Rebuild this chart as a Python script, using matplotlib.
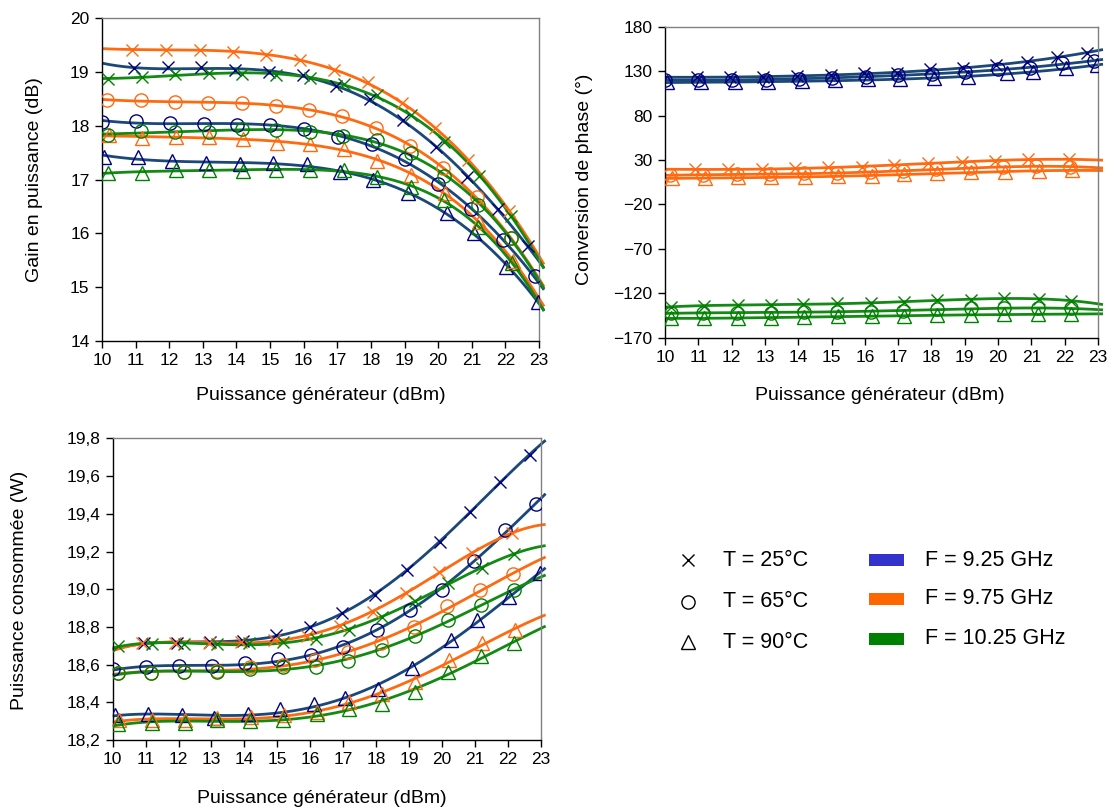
import numpy as np
import matplotlib
matplotlib.use("Agg")
import matplotlib.pyplot as plt
from matplotlib.patches import Rectangle
from matplotlib.ticker import FuncFormatter

plt.rcParams['font.family'] = ['Liberation Sans', 'DejaVu Sans']

# ---- measured generator power (dBm) for each frequency / temperature run ----
pgen_925_25 = [10.95, 11.95, 12.95, 13.95, 14.97, 15.98, 16.96, 17.97, 18.94, 19.93, 20.86, 21.77, 22.66]
pgen_925_65 = [10.0, 11.0, 12.02, 13.03, 14.02, 15.01, 16.02, 17.01, 18.02, 19.02, 20.0, 20.97, 21.92, 22.87]
pgen_925_90 = [10.07, 11.08, 12.09, 13.09, 14.1, 15.09, 16.1, 17.07, 18.07, 19.09, 20.27, 21.06, 22.03, 22.98]
pgen_975_25 = [10.9, 11.9, 12.92, 13.9, 14.89, 15.9, 16.89, 17.9, 18.92, 19.9, 20.9, 22.12]
pgen_975_65 = [10.15, 11.15, 12.17, 13.16, 14.17, 15.17, 16.15, 17.14, 18.15, 19.16, 20.15, 21.15, 22.17]
pgen_975_90 = [10.2, 11.2, 12.2, 13.18, 14.2, 15.2, 16.2, 17.19, 18.18, 19.19, 20.2, 21.22, 22.23]
pgen_1025_25 = [10.17, 11.18, 12.18, 13.17, 14.15, 15.17, 16.18, 17.19, 18.18, 19.19, 20.17, 21.22, 22.18]
pgen_1025_65 = [10.17, 11.15, 12.17, 13.17, 14.17, 15.17, 16.18, 17.16, 18.18, 19.19, 20.17, 21.19, 22.18]
pgen_1025_90 = [10.17, 11.18, 12.2, 13.18, 14.18, 15.18, 16.2, 17.19, 18.18, 19.19, 20.17, 21.19, 22.2]

# ---- power gain (dB) ----
gain_925_25 = [19.07, 19.09, 19.09, 19.04, 19.0, 18.94, 18.74, 18.50, 18.11, 17.61, 17.06, 16.45, 15.77]
gain_925_65 = [18.08, 18.09, 18.06, 18.03, 18.02, 18.02, 17.94, 17.8, 17.67, 17.38, 16.93, 16.45, 15.88, 15.2]
gain_925_90 = [17.43, 17.43, 17.34, 17.31, 17.29, 17.31, 17.29, 17.15, 17.0, 16.75, 16.38, 16.0, 15.38, 14.73]
gain_975_25 = [19.42, 19.42, 19.42, 19.38, 19.32, 19.23, 19.05, 18.81, 18.43, 17.96, 17.37, 16.42]
gain_975_65 = [18.48, 18.48, 18.45, 18.43, 18.43, 18.37, 18.30, 18.19, 17.96, 17.63, 17.21, 16.67, 15.91]
gain_975_90 = [17.83, 17.77, 17.8, 17.8, 17.75, 17.69, 17.67, 17.57, 17.35, 17.09, 16.76, 16.22, 15.48]
gain_1025_25 = [18.87, 18.92, 18.96, 18.98, 18.96, 18.95, 18.89, 18.79, 18.58, 18.2, 17.71, 17.07, 16.33]
gain_1025_65 = [17.83, 17.91, 17.89, 17.89, 17.94, 17.93, 17.88, 17.81, 17.74, 17.5, 17.07, 16.53, 15.91]
gain_1025_90 = [17.13, 17.13, 17.18, 17.19, 17.17, 17.18, 17.19, 17.18, 17.05, 16.87, 16.62, 16.13, 15.45]

# ---- AM/PM phase conversion (deg) ----
phase_925_25 = [123.2, 123.9, 123.9, 124.6, 125.8, 127.6, 128.4, 132.1, 133.3, 137.0, 140.8, 146.4, 150.9]
phase_925_65 = [120.1, 120.1, 120.5, 120.8, 121.5, 122.5, 123.9, 125.8, 126.9, 129.5, 132.1, 133.3, 138.9, 141.9]
phase_925_90 = [117.5, 117.6, 117.9, 118.2, 118.8, 119.7, 120.9, 121.2, 122.0, 123.9, 127.6, 129.5, 133.3, 137.0]
phase_975_25 = [19.5, 19.5, 19.5, 20.6, 21.8, 22.5, 24.4, 26.2, 28.1, 29.2, 30.8, 30.8]
phase_975_65 = [13.1, 13.1, 13.9, 13.9, 15.0, 15.7, 16.1, 18.0, 19.5, 20.6, 22.5, 23.2, 22.5]
phase_975_90 = [9.4, 9.4, 10.5, 10.5, 10.5, 12.0, 12.4, 13.9, 15.0, 16.1, 16.9, 18.0, 18.4]
phase_1025_25 = [-135.3, -134.2, -133.4, -133.4, -132.3, -131.5, -131.5, -129.7, -127.7, -127.7, -125.2, -126.6, -128.5]
phase_1025_65 = [-142.7, -142.3, -142.0, -142.0, -140.9, -140.9, -140.9, -139.8, -138.2, -137.1, -137.1, -137.1, -137.1]
phase_1025_90 = [-148.4, -148.4, -148.0, -147.6, -147.0, -146.3, -145.6, -145.3, -145.0, -144.6, -144.0, -143.7, -143.7]

# ---- consumed power (W) ----
pdc_925_25 = [18.713, 18.716, 18.72, 18.725, 18.757, 18.80, 18.872, 18.969, 19.102, 19.252, 19.411, 19.570, 19.712]
pdc_925_65 = [18.575, 18.586, 18.59, 18.593, 18.607, 18.628, 18.651, 18.695, 18.784, 18.89, 18.996, 19.15, 19.314, 19.45]
pdc_925_90 = [18.333, 18.336, 18.33, 18.318, 18.336, 18.363, 18.391, 18.421, 18.469, 18.58, 18.731, 18.837, 18.957, 19.084]
pdc_975_25 = [18.713, 18.713, 18.716, 18.718, 18.73, 18.752, 18.805, 18.88, 18.98, 19.09, 19.19, 19.297]
pdc_975_65 = [18.557, 18.557, 18.56, 18.568, 18.586, 18.598, 18.624, 18.668, 18.716, 18.798, 18.911, 18.996, 19.079]
pdc_975_90 = [18.305, 18.305, 18.306, 18.315, 18.32, 18.33, 18.35, 18.403, 18.444, 18.509, 18.624, 18.716, 18.784]
pdc_1025_25 = [18.699, 18.709, 18.71, 18.71, 18.713, 18.72, 18.736, 18.784, 18.851, 18.937, 19.034, 19.111, 19.187]
pdc_1025_65 = [18.553, 18.557, 18.56, 18.56, 18.575, 18.586, 18.589, 18.621, 18.677, 18.753, 18.837, 18.916, 18.996]
pdc_1025_90 = [18.285, 18.289, 18.292, 18.306, 18.303, 18.306, 18.338, 18.363, 18.391, 18.456, 18.562, 18.646, 18.713]

frequencies = ["F = 9.25 GHz", "F = 9.75 GHz", "F = 10.25 GHz"]
temperatures = ["T = 25°C", "T = 65°C", "T = 90°C"]

x_ticks = list(range(10, 24))
gain_ticks = [14, 15, 16, 17, 18, 19, 20]
phase_ticks = [-170, -120, -70, -20, 30, 80, 130, 180]
pdc_ticks = [18.2, 18.4, 18.6, 18.8, 19.0, 19.2, 19.4, 19.6, 19.8]

# ---- styling ----
line_colors = ["#1B4878", "#FF6A10", "#138A13"]
marker_colors = ["#000080", "#FF6A10", "#008000"]
legend_colors = ["#3333CC", "#FF6600", "#008000"]
markers = ["x", "o", "^"]
marker_sizes = [9, 9.5, 9.5]
tick_fs = 12.5
label_fs = 14
legend_fs = 15.5

runs = [
    (0, 0, pgen_925_25, gain_925_25, phase_925_25, pdc_925_25),
    (0, 1, pgen_925_65, gain_925_65, phase_925_65, pdc_925_65),
    (0, 2, pgen_925_90, gain_925_90, phase_925_90, pdc_925_90),
    (1, 0, pgen_975_25, gain_975_25, phase_975_25, pdc_975_25),
    (1, 1, pgen_975_65, gain_975_65, phase_975_65, pdc_975_65),
    (1, 2, pgen_975_90, gain_975_90, phase_975_90, pdc_975_90),
    (2, 0, pgen_1025_25, gain_1025_25, phase_1025_25, pdc_1025_25),
    (2, 1, pgen_1025_65, gain_1025_65, phase_1025_65, pdc_1025_65),
    (2, 2, pgen_1025_90, gain_1025_90, phase_1025_90, pdc_1025_90),
]

W, H = 1110, 809
fig = plt.figure(figsize=(W / 100, H / 100), dpi=100)


def px_axes(left, top, right, bottom):
    return fig.add_axes([left / W, 1 - bottom / H, (right - left) / W, (bottom - top) / H])


ax_gain = px_axes(102, 18.5, 539, 341)
ax_phase = px_axes(665, 27, 1098, 337.5)
ax_pdc = px_axes(112.7, 438.4, 540.7, 740)


def style_axes(ax, yticks, ylabel, ylab_xy, xlab_xy, fmt=None):
    ax.set_xlim(10, 23)
    ax.set_ylim(yticks[0], yticks[-1])
    ax.set_xticks(x_ticks)
    ax.set_yticks(yticks)
    if fmt is not None:
        ax.yaxis.set_major_formatter(FuncFormatter(fmt))
    for s in ("top", "right"):
        ax.spines[s].set_color("#808080")
        ax.spines[s].set_linewidth(1.0)
    for s in ("left", "bottom"):
        ax.spines[s].set_color("black")
        ax.spines[s].set_linewidth(1.0)
    ax.tick_params(direction="out", length=5, width=1, color="black",
                   labelsize=tick_fs, pad=4)
    ax.set_ylabel(ylabel, fontsize=label_fs)
    ax.set_xlabel("Puissance générateur (dBm)", fontsize=label_fs)
    ax.yaxis.set_label_coords(*ylab_xy)
    ax.xaxis.set_label_coords(*xlab_xy)


style_axes(ax_gain, gain_ticks, "Gain en puissance (dB)", (-0.135, 0.5), (0.5, -0.143))
style_axes(ax_phase, phase_ticks, "Conversion de phase (°)", (-0.166, 0.51), (0.497, -0.16))
style_axes(ax_pdc, pdc_ticks, "Puissance consommée (W)", (-0.198, 0.497), (0.489, -0.166),
           fmt=lambda v, pos: f"{v:.1f}".replace(".", ","))

x_trend = np.linspace(10, 23.15, 300)

for fi, ti, xg, g, ph, pdc in runs:
    for ax, y in ((ax_gain, g), (ax_phase, ph), (ax_pdc, pdc)):
        coef = np.polyfit(xg, y, 4)
        ax.plot(x_trend, np.polyval(coef, x_trend), color=line_colors[fi],
                lw=2.0, solid_capstyle="butt", clip_on=False, zorder=2)
        ax.plot(xg, y, linestyle="none", marker=markers[ti],
                ms=marker_sizes[ti], mfc="none", mec=marker_colors[fi],
                mew=1.0, zorder=3)

# ---- legend block ----
leg = px_axes(640, 530, 1110, 670)
leg.set_xlim(640, 1110)
leg.set_ylim(670, 530)
leg.axis("off")
row_y = [560, 601.5, 642]
for ti, lab in enumerate(temperatures):
    leg.plot([688], [row_y[ti]], linestyle="none", marker=markers[ti],
             ms=marker_sizes[ti], mfc="none", mec="black", mew=1.0)
    leg.text(723, row_y[ti], lab, fontsize=legend_fs, va="center", ha="left")
patch_y = [560, 598.5, 639]
for fi, lab in enumerate(frequencies):
    leg.add_patch(Rectangle((869, patch_y[fi] - 6), 35, 12, color=legend_colors[fi], lw=0))
    leg.text(925, patch_y[fi], lab, fontsize=legend_fs, va="center", ha="left")

fig.savefig("out.png", dpi=100)
